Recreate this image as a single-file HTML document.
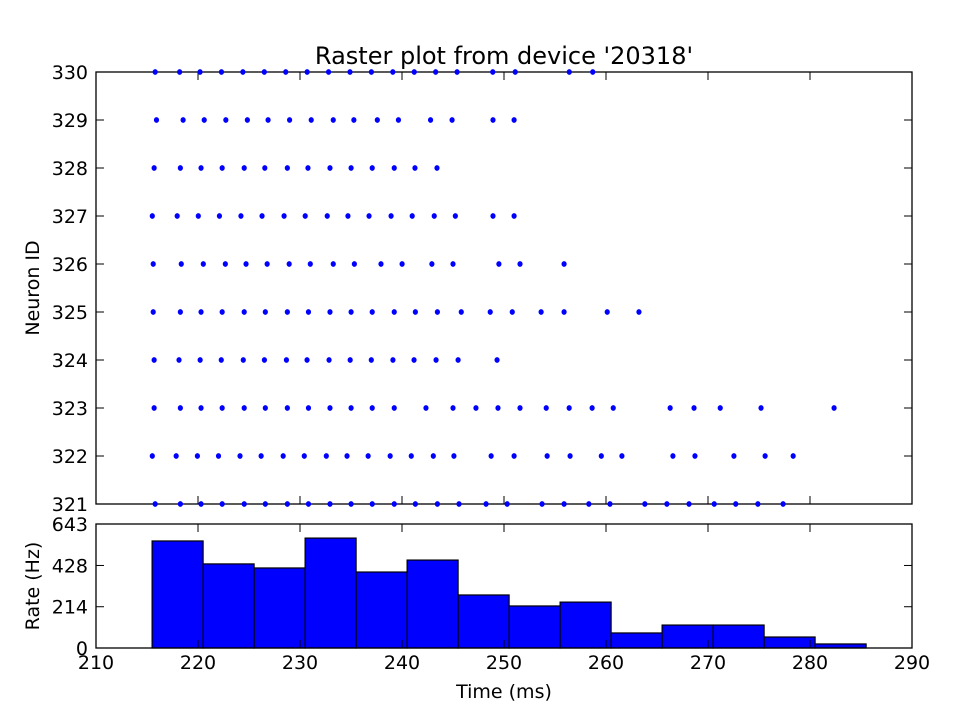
<!DOCTYPE html>
<html><head><meta charset="utf-8"><style>body{margin:0;background:#fff}svg{display:block;font-family:"DejaVu Sans","Liberation Sans",sans-serif}</style></head>
<body>
<svg id="c" width="960" height="720"></svg>
<script>
const neuronIds=[330,329,328,327,326,325,324,323,322,321];
const spikes330=[215.8,218.2,220.2,222.3,224.4,226.5,228.6,230.7,232.8,234.9,237.0,239.1,241.2,243.3,245.4,248.9,251.1,256.4,258.7];
const spikes329=[215.93,218.54,220.61,222.73,224.84,226.87,228.98,231.10,233.26,235.28,237.58,239.65,242.80,244.91,248.92,250.99];
const spikes328=[215.70,218.27,220.30,222.37,224.53,226.55,228.76,230.78,232.94,235.01,237.08,239.24,241.27,243.43];
const spikes327=[215.52,217.96,220.03,222.10,224.21,226.28,228.44,230.51,232.67,234.70,236.77,238.93,241.00,243.16,245.23,248.92,250.99];
const spikes326=[215.61,218.36,220.52,222.68,224.71,226.78,228.94,231.01,233.26,235.33,237.94,240.01,242.93,245.00,249.50,251.57,255.89];
const spikes325=[215.61,218.27,220.30,222.37,224.53,226.60,228.76,230.83,232.94,235.01,237.08,239.24,241.31,243.47,245.81,248.65,250.81,253.64,255.89,260.12,263.23];
const spikes324=[215.70,218.14,220.21,222.28,224.44,226.51,228.67,230.69,232.85,234.92,236.99,239.11,241.18,243.34,245.50,249.32];
const spikes323=[215.70,218.27,220.30,222.37,224.53,226.60,228.76,230.83,232.94,235.01,237.08,239.24,242.35,245.00,247.25,249.41,251.57,254.14,256.39,258.64,260.71,266.29,268.63,271.20,275.20,282.36];
const spikes322=[215.52,217.86,219.94,222.01,224.12,226.19,228.35,230.42,232.58,234.61,236.68,238.84,240.91,243.07,245.09,248.74,250.99,254.23,256.48,259.54,261.56,266.56,268.72,272.54,275.60,278.35];
const spikes321=[215.80,218.27,220.30,222.37,224.53,226.60,228.76,230.83,232.94,235.01,237.08,239.24,241.31,243.47,245.59,248.24,250.31,253.73,255.89,258.32,260.39,263.81,265.97,268.14,270.61,272.72,274.89,277.36];
const binStart=215.5, binWidth=5;
const rates=[555,436,415,570,394,456,275,218,238,78,119,119,57,21];
const xTicks=[210,220,230,240,250,260,270,280,290];
const rateTicks=[0,214,428,643];
const allSpikes=[spikes330,spikes329,spikes328,spikes327,spikes326,spikes325,spikes324,spikes323,spikes322,spikes321];

const NS="http://www.w3.org/2000/svg",svg=document.getElementById('c');
function mk(t,a,p){const e=document.createElementNS(NS,t);for(const k in a)e.setAttribute(k,a[k]);(p||svg).appendChild(e);return e;}
const L=96,R=912,T1=72,B1=504,T2=524,B2=648;
const x=t=>L+(t-210)/(290-210)*(R-L);
const y1=n=>B1-(n-321)/(330-321)*(B1-T1);
const y2=v=>B2-v/643*(B2-T2);

const gh=mk('g',{});
rates.forEach((r,i)=>{const x0=x(binStart+i*binWidth),x1=x(binStart+(i+1)*binWidth);const e=mk('rect',{x:x0,y:y2(r),width:x1-x0,height:B2-y2(r),fill:'#0000ff',stroke:'#000','stroke-width':1.2},gh);});

const f1=mk('rect',{x:L,y:T1,width:R-L,height:B1-T1,fill:'none',stroke:'#000','stroke-width':1.3});
const f2=mk('rect',{x:L,y:T2,width:R-L,height:B2-T2,fill:'none',stroke:'#000','stroke-width':1.3});

neuronIds.forEach(n=>{const yy=y1(n);mk('line',{x1:L,x2:L+8,y1:yy,y2:yy,stroke:'#000'});mk('line',{x1:R,x2:R-8,y1:yy,y2:yy,stroke:'#000'});
const t=mk('text',{x:L-8,y:yy+7,'text-anchor':'end','font-size':19});t.textContent=n;});
xTicks.forEach(v=>{const xx=x(v);[[B1,B1-8],[T1,T1+8],[B2,B2-8],[T2,T2+8]].forEach(p=>mk('line',{x1:xx,x2:xx,y1:p[0],y2:p[1],stroke:'#000'}));
const t=mk('text',{x:xx,y:B2+21,'text-anchor':'middle','font-size':19});t.textContent=v;});
rateTicks.forEach(v=>{const yy=y2(v);mk('line',{x1:L,x2:L+8,y1:yy,y2:yy,stroke:'#000'});mk('line',{x1:R,x2:R-8,y1:yy,y2:yy,stroke:'#000'});
const t=mk('text',{x:L-8,y:yy+7,'text-anchor':'end','font-size':19});t.textContent=v;});

const gs=mk('g',{});
allSpikes.forEach((arr,i)=>arr.forEach(t=>{const e=mk('ellipse',{cx:x(t),cy:y1(neuronIds[i]),rx:2.6,ry:2.9,fill:'#0000ff'},gs);}));

let t=mk('text',{x:504,y:64,'text-anchor':'middle','font-size':24});t.textContent="Raster plot from device '20318'";
t=mk('text',{x:504,y:698,'text-anchor':'middle','font-size':19});t.textContent="Time (ms)";
t=mk('text',{x:39,y:288,'text-anchor':'middle','font-size':19,transform:'rotate(-90 39 288)'});t.textContent="Neuron ID";
t=mk('text',{x:39,y:586,'text-anchor':'middle','font-size':19,transform:'rotate(-90 39 586)'});t.textContent="Rate (Hz)";
</script>
</body></html>
